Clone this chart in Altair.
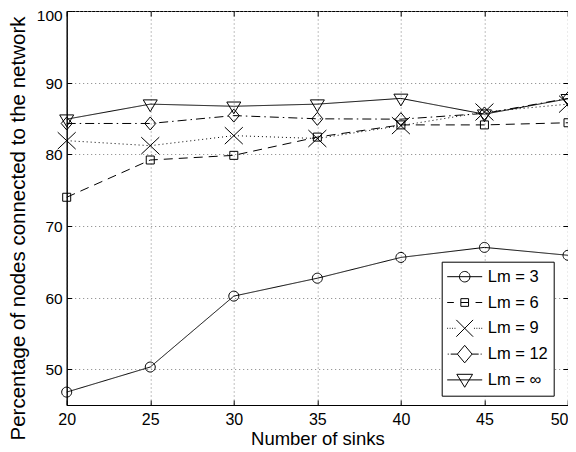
import math
import altair as alt
import pandas as pd

# ---------------- data ----------------
sinks = [20, 25, 30, 35, 40, 45, 50]
series_names = ["Lm = 3", "Lm = 6", "Lm = 9", "Lm = 12", "Lm = ∞"]
lm3 = [46.8, 50.3, 60.2, 62.7, 65.6, 67.0, 65.9]
lm6 = [74.0, 79.2, 79.85, 82.4, 84.1, 84.1, 84.4]
lm9 = [81.9, 81.2, 82.6, 82.2, 84.0, 85.9, 87.0]
lm12 = [84.3, 84.3, 85.4, 84.95, 84.9, 85.7, 87.8]
lminf = [84.9, 87.0, 86.7, 87.0, 87.8, 85.6, 87.75]
x_ticks = [20, 25, 30, 35, 40, 45, 50]
y_ticks = [50, 60, 70, 80, 90, 100]

rows = []
for name, vals in zip(series_names, [lm3, lm6, lm9, lm12, lminf]):
    for x, y in zip(sinks, vals):
        rows.append({"sinks": x, "pct": y, "series": name})
df = pd.DataFrame(rows)

FONT = "Liberation Sans"
W, H = 501.3, 394


def circle_path(r, n=28):
    pts = []
    for i in range(n):
        a = 2 * math.pi * i / n
        pts.append(f"{r * math.cos(a):.3f},{r * math.sin(a):.3f}")
    return "M" + "L".join(pts) + "Z"


# plot marker shapes (unit = sqrt(size)/2)
plot_shapes = [
    circle_path(1.0),
    "M-0.8,-0.8L0.8,-0.8L0.8,0.8L-0.8,0.8Z",
    "M-1.8,-1.7L1.8,1.7M-1.8,1.7L1.8,-1.7",
    "M0,-1.3L1.1,0L0,1.3L-1.1,0Z",
    "M-1.4,-0.85L1.4,-0.85L0,1.5Z",
]

# legend symbols: line sample + marker in one path
dots = "".join(f"M{x:.2f},0h0.05" for x in [-1.0, -0.86, -0.72, -0.58, 0.53, 0.67, 0.81, 0.95])
legend_shapes = [
    "M-1,0H1" + circle_path(0.3),
    "M-1,0H-0.62M-0.22,0H0.22M0.62,0H1M-0.22,-0.22L0.22,-0.22L0.22,0.22L-0.22,0.22Z",
    dots + "M-0.48,-0.48L0.48,0.48M-0.48,0.48L0.48,-0.48",
    "M-0.97,0H-0.91M-0.8,0H-0.42M0.42,0H0.8M0.91,0H0.97M0,-0.5L0.42,0L0,0.5L-0.42,0Z",
    "M-1,0H1M-0.45,-0.32L0.45,-0.32L0,0.42Z",
]

dashes = [[1, 0], [9, 6], [1, 3], [9, 4, 1.5, 4], [1, 0]]

x_scale = alt.Scale(domain=[20, 50], nice=False, zero=False)
y_scale = alt.Scale(domain=[45, 100], nice=False, zero=False)


def tick_axis(values, orient):
    return alt.Axis(
        values=values,
        orient=orient,
        labels=False,
        domain=False,
        grid=False,
        ticks=True,
        tickSize={"expr": "-5"},
        tickColor="black",
        tickWidth=1,
        title=None,
    )


main_x_axis = alt.Axis(
    values=x_ticks,
    orient="bottom",
    format="d",
    title="Number of sinks",
    labelFlush=False,
    labelAlign={"condition": {"test": "datum.value == 50", "value": "right"}, "value": "center"},
    labelFontSize=16,
    labelPadding=6.5,
    titleFontSize=18.5,
    titleBaseline="alphabetic",
    titleAlign="center",
    titleX=W / 2,
    titleY=39.3,
    ticks=False,
    grid=True,
)
main_y_axis = alt.Axis(
    values=y_ticks,
    orient="left",
    format="d",
    title="Percentage of nodes connected to the network",
    labelFontSize=15.5,
    labelPadding=4.5,
    labelOffset={"condition": {"test": "datum.value == 100", "value": 4}, "value": 0.5},
    titleFontSize=20.5,
    titleAngle=-90,
    titleAlign="center",
    titleBaseline="alphabetic",
    titleX=-41.7,
    titleY=217,
    ticks=False,
    grid=True,
)

lines = alt.Chart(df).mark_line(color="black", strokeWidth=1).encode(
    x=alt.X("sinks:Q", scale=x_scale, axis=main_x_axis),
    y=alt.Y("pct:Q", scale=y_scale, axis=main_y_axis),
    strokeDash=alt.StrokeDash(
        "series:N",
        scale=alt.Scale(domain=series_names, range=dashes),
        legend=None,
    ),
)

points = alt.Chart(df).mark_point(
    filled=False, color="black", strokeWidth=1, size=100, opacity=1
).encode(
    x=alt.X("sinks:Q", scale=x_scale, axis=tick_axis(x_ticks, "top")),
    y=alt.Y("pct:Q", scale=y_scale, axis=tick_axis(y_ticks, "right")),
    shape=alt.Shape(
        "series:N",
        scale=alt.Scale(domain=series_names, range=plot_shapes),
        legend=None,
    ),
)

legend_layer = alt.Chart(df).transform_filter("false").mark_point(
    filled=False, color="black", strokeWidth=1
).encode(
    x=alt.X("sinks:Q", scale=x_scale, axis=tick_axis(x_ticks, "bottom")),
    y=alt.Y("pct:Q", scale=y_scale, axis=tick_axis(y_ticks, "left")),
    shape=alt.Shape(
        "series:N",
        scale=alt.Scale(domain=series_names, range=legend_shapes),
        legend=alt.Legend(
            title=None,
            orient="none",
            legendX=375,
            legendY=250.7,
            padding=5,
            strokeColor="black",
            fillColor="white",
            labelFont=FONT,
            labelFontSize=16.5,
            labelColor="black",
            labelOffset=5,
            symbolSize=1225,
            symbolStrokeWidth=1,
            symbolStrokeColor="black",
            symbolFillColor="transparent",
            symbolOpacity=1,
            clipHeight=20,
            rowPadding=5.8,
        ),
    ),
)

chart = (
    alt.layer(lines, points, legend_layer)
    .resolve_scale(shape="independent")
    .resolve_axis(x="independent", y="independent")
    .properties(
        width=W,
        height=H,
        autosize=alt.AutoSizeParams(type="none"),
        padding={"left": 58.7, "top": 3, "right": 0, "bottom": 44},
    )
    .configure_view(stroke="black", strokeWidth=1)
    .configure_axis(
        labelFont=FONT,
        titleFont=FONT,
        labelColor="black",
        titleColor="black",
        titleFontWeight="normal",
        domainColor="black",
        domainWidth=1,
        gridColor="#808080",
        gridDash=[1, 3],
        gridWidth=1,
    )
)

chart.save("out.html", embed_options={"renderer": "svg", "actions": False})
